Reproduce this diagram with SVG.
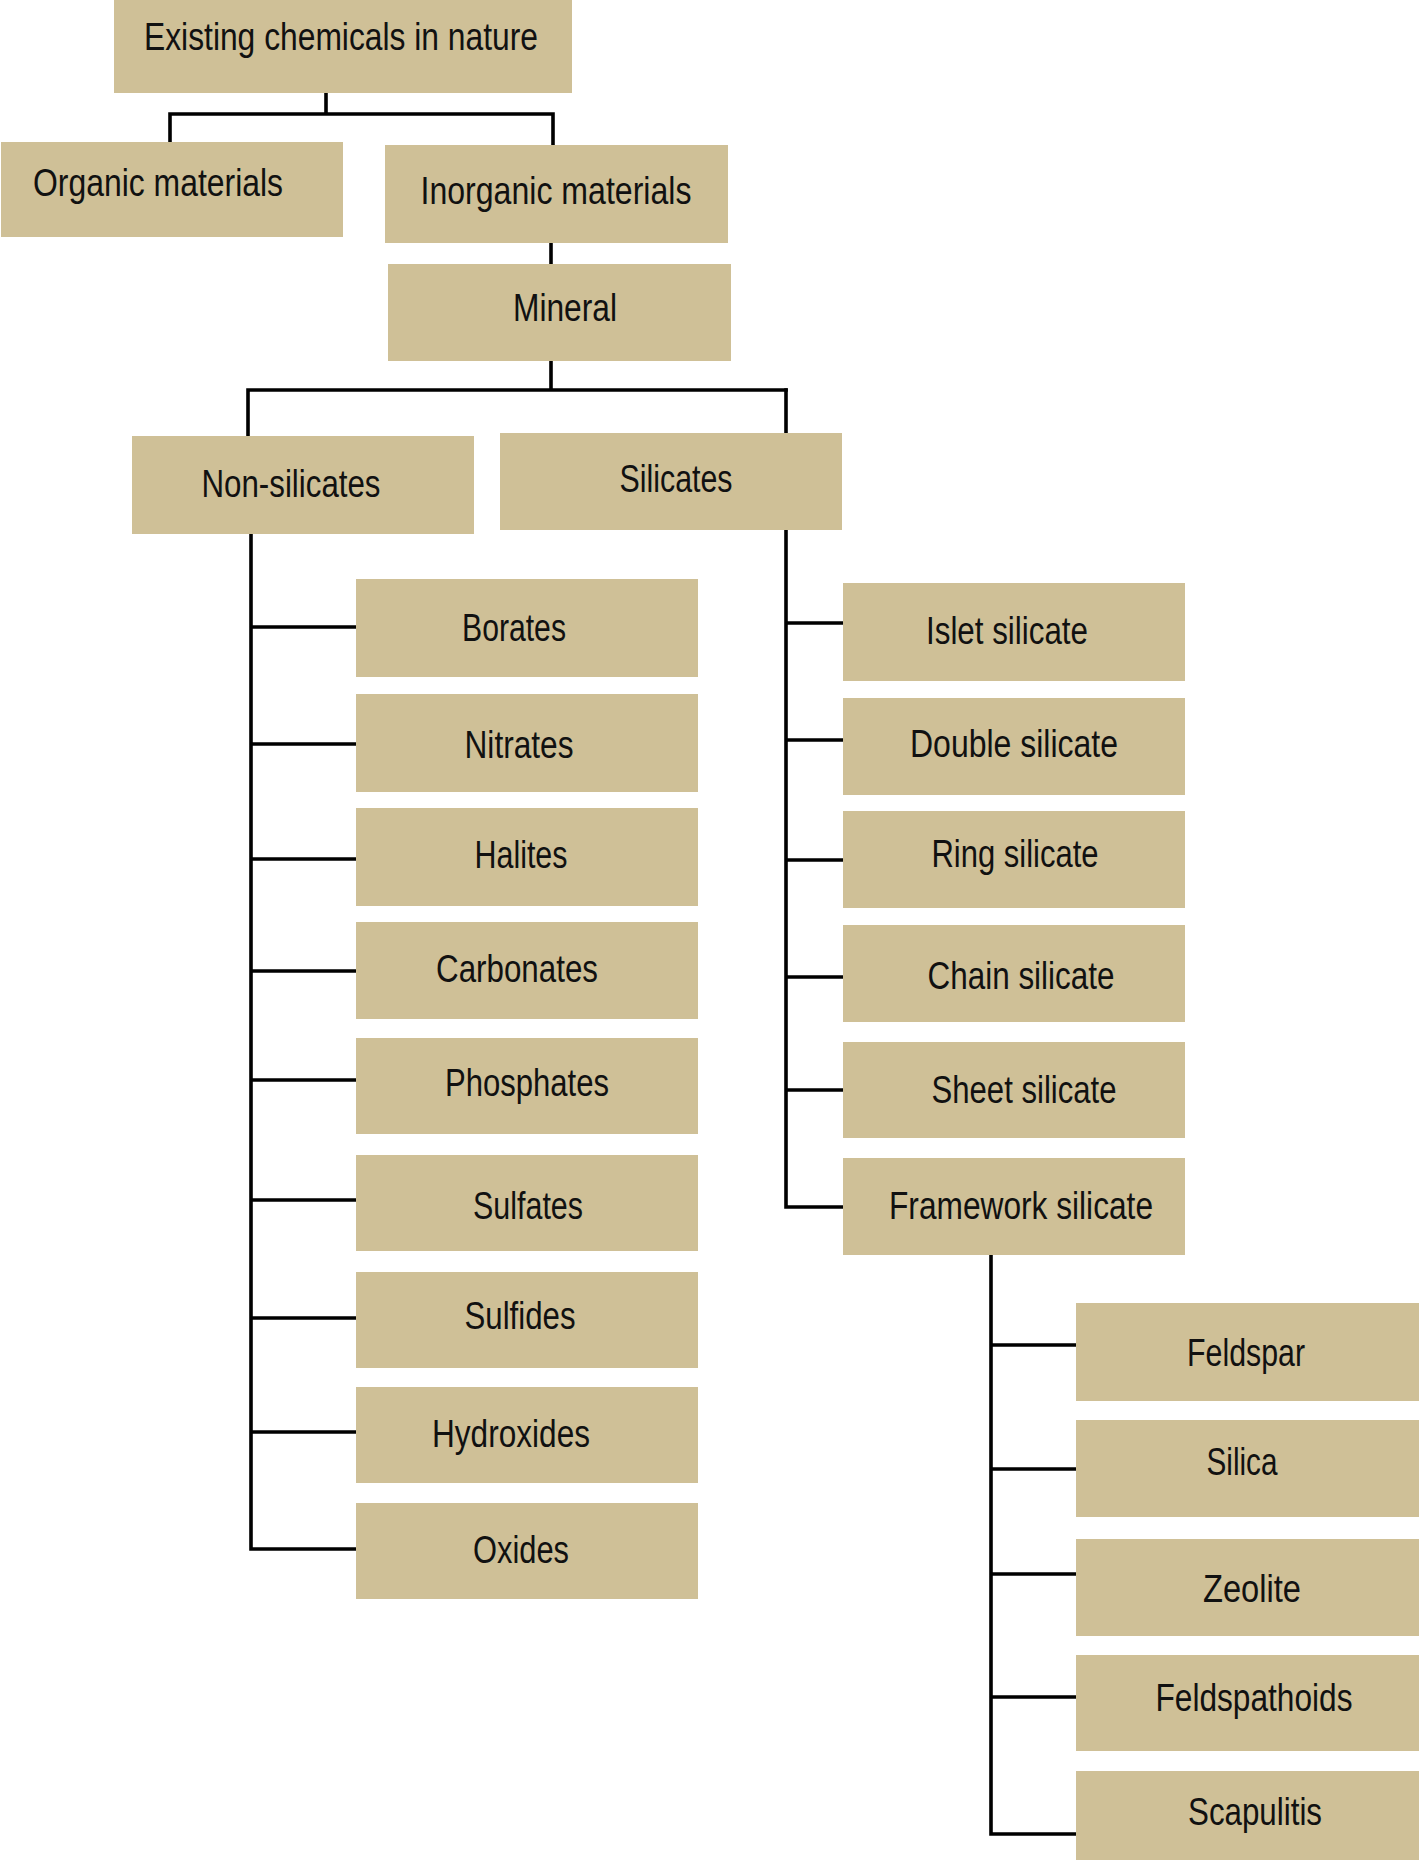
<svg xmlns="http://www.w3.org/2000/svg" width="1419" height="1860" viewBox="0 0 1419 1860">
<style>
.box{fill:#cfc097}
.lbl{font-family:"Liberation Sans",Arial,sans-serif;font-size:38px;fill:#111;text-anchor:middle}
.ln{stroke:#000;stroke-width:3.6;fill:none;stroke-linecap:square}
</style>
<rect width="1419" height="1860" fill="#fff"/>
<g id="connectors">
<path class="ln" d="M326 93V114M170 114H553M170 114V142M553 114V145"/>
<path class="ln" d="M551 243V264"/>
<path class="ln" d="M551 361V390M248 390H786M248 390V436"/>
<path class="ln" d="M251 534V1549M251 627H356M251 744H356M251 859H356M251 971H356M251 1080H356M251 1200H356M251 1318H356M251 1432H356M251 1549H356"/>
<path class="ln" d="M786 390V1207M786 623H843M786 740H843M786 860H843M786 977H843M786 1090H843M786 1207H843"/>
<path class="ln" d="M991 1254V1834M991 1345H1076M991 1469H1076M991 1574H1076M991 1697H1076M991 1834H1076"/>
</g>
<g id="n-existing"><rect class="box" x="114" y="0" width="458" height="93"/><text class="lbl" x="341" y="50" textLength="394" lengthAdjust="spacingAndGlyphs">Existing chemicals in nature</text></g>
<g id="n-organic"><rect class="box" x="1" y="142" width="342" height="95"/><text class="lbl" x="158" y="196" textLength="250" lengthAdjust="spacingAndGlyphs">Organic materials</text></g>
<g id="n-inorganic"><rect class="box" x="385" y="145" width="343" height="98"/><text class="lbl" x="556" y="204" textLength="271" lengthAdjust="spacingAndGlyphs">Inorganic materials</text></g>
<g id="n-mineral"><rect class="box" x="388" y="264" width="343" height="97"/><text class="lbl" x="565" y="321" textLength="104" lengthAdjust="spacingAndGlyphs">Mineral</text></g>
<g id="n-nonsilicates"><rect class="box" x="132" y="436" width="342" height="98"/><text class="lbl" x="291" y="497" textLength="179" lengthAdjust="spacingAndGlyphs">Non-silicates</text></g>
<g id="n-silicates"><rect class="box" x="500" y="433" width="342" height="97"/><text class="lbl" x="676" y="492" textLength="113" lengthAdjust="spacingAndGlyphs">Silicates</text></g>

<g id="n-borates"><rect class="box" x="356" y="579" width="342" height="98"/><text class="lbl" x="514" y="641" textLength="104" lengthAdjust="spacingAndGlyphs">Borates</text></g>
<g id="n-nitrates"><rect class="box" x="356" y="694" width="342" height="98"/><text class="lbl" x="519" y="758" textLength="109" lengthAdjust="spacingAndGlyphs">Nitrates</text></g>
<g id="n-halites"><rect class="box" x="356" y="808" width="342" height="98"/><text class="lbl" x="521" y="868" textLength="93" lengthAdjust="spacingAndGlyphs">Halites</text></g>
<g id="n-carbonates"><rect class="box" x="356" y="922" width="342" height="97"/><text class="lbl" x="517" y="982" textLength="162" lengthAdjust="spacingAndGlyphs">Carbonates</text></g>
<g id="n-phosphates"><rect class="box" x="356" y="1038" width="342" height="96"/><text class="lbl" x="527" y="1096" textLength="164" lengthAdjust="spacingAndGlyphs">Phosphates</text></g>
<g id="n-sulfates"><rect class="box" x="356" y="1155" width="342" height="96"/><text class="lbl" x="528" y="1219" textLength="110" lengthAdjust="spacingAndGlyphs">Sulfates</text></g>
<g id="n-sulfides"><rect class="box" x="356" y="1272" width="342" height="96"/><text class="lbl" x="520" y="1329" textLength="111" lengthAdjust="spacingAndGlyphs">Sulfides</text></g>
<g id="n-hydroxides"><rect class="box" x="356" y="1387" width="342" height="96"/><text class="lbl" x="511" y="1447" textLength="158" lengthAdjust="spacingAndGlyphs">Hydroxides</text></g>
<g id="n-oxides"><rect class="box" x="356" y="1503" width="342" height="96"/><text class="lbl" x="521" y="1563" textLength="96" lengthAdjust="spacingAndGlyphs">Oxides</text></g>

<g id="n-islet"><rect class="box" x="843" y="583" width="342" height="98"/><text class="lbl" x="1007" y="644" textLength="162" lengthAdjust="spacingAndGlyphs">Islet silicate</text></g>
<g id="n-double"><rect class="box" x="843" y="698" width="342" height="97"/><text class="lbl" x="1014" y="757" textLength="208" lengthAdjust="spacingAndGlyphs">Double silicate</text></g>
<g id="n-ring"><rect class="box" x="843" y="811" width="342" height="97"/><text class="lbl" x="1015" y="867" textLength="167" lengthAdjust="spacingAndGlyphs">Ring silicate</text></g>
<g id="n-chain"><rect class="box" x="843" y="925" width="342" height="97"/><text class="lbl" x="1021" y="989" textLength="187" lengthAdjust="spacingAndGlyphs">Chain silicate</text></g>
<g id="n-sheet"><rect class="box" x="843" y="1042" width="342" height="96"/><text class="lbl" x="1024" y="1103" textLength="185" lengthAdjust="spacingAndGlyphs">Sheet silicate</text></g>
<g id="n-framework"><rect class="box" x="843" y="1158" width="342" height="97"/><text class="lbl" x="1021" y="1219" textLength="264" lengthAdjust="spacingAndGlyphs">Framework silicate</text></g>

<g id="n-feldspar"><rect class="box" x="1076" y="1303" width="343" height="98"/><text class="lbl" x="1246" y="1366" textLength="118" lengthAdjust="spacingAndGlyphs">Feldspar</text></g>
<g id="n-silica"><rect class="box" x="1076" y="1420" width="343" height="97"/><text class="lbl" x="1242" y="1475" textLength="71" lengthAdjust="spacingAndGlyphs">Silica</text></g>
<g id="n-zeolite"><rect class="box" x="1076" y="1539" width="343" height="97"/><text class="lbl" x="1252" y="1602" textLength="98" lengthAdjust="spacingAndGlyphs">Zeolite</text></g>
<g id="n-feldspathoids"><rect class="box" x="1076" y="1655" width="343" height="96"/><text class="lbl" x="1254" y="1711" textLength="197" lengthAdjust="spacingAndGlyphs">Feldspathoids</text></g>
<g id="n-scapulitis"><rect class="box" x="1076" y="1771" width="343" height="89"/><text class="lbl" x="1255" y="1825" textLength="134" lengthAdjust="spacingAndGlyphs">Scapulitis</text></g>
</svg>
